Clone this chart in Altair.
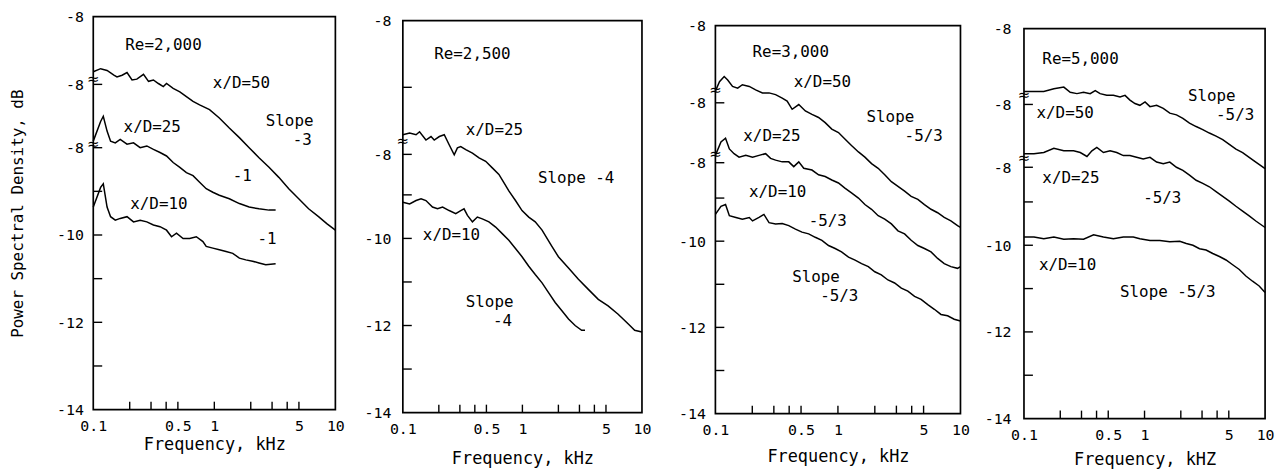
import altair as alt
import pandas as pd

FONT = "DejaVu Sans Mono"

# ---------------- data (frequency kHz, PSD dB) ----------------
# Panel 1: Re = 2,000
P1_XD50_F = [0.10, 0.115, 0.13, 0.148, 0.157, 0.173, 0.19, 0.209, 0.229, 0.26, 0.286, 0.314, 0.345, 0.379, 0.403, 0.457, 0.519, 0.588, 0.667, 0.756, 0.913, 1.10, 1.33, 1.61, 1.94, 2.34, 2.83, 3.41, 4.12, 4.98, 6.01, 7.26, 8.49, 10.0]
P1_XD50_V = [-6.26, -6.19, -6.23, -6.34, -6.38, -6.34, -6.28, -6.45, -6.43, -6.32, -6.48, -6.45, -6.53, -6.60, -6.53, -6.64, -6.72, -6.83, -6.94, -7.02, -7.13, -7.32, -7.55, -7.77, -8.00, -8.23, -8.45, -8.68, -8.94, -9.17, -9.40, -9.58, -9.74, -9.89]
P1_XD25_F = [0.10, 0.115, 0.121, 0.13, 0.139, 0.152, 0.167, 0.19, 0.215, 0.244, 0.277, 0.314, 0.356, 0.403, 0.457, 0.519, 0.588, 0.667, 0.756, 0.857, 0.972, 1.10, 1.33, 1.61, 1.94, 2.34, 2.83, 3.21]
P1_XD25_V = [-7.85, -7.40, -7.28, -7.62, -7.85, -7.89, -7.81, -7.92, -7.89, -8.00, -7.96, -8.04, -8.11, -8.19, -8.34, -8.45, -8.57, -8.64, -8.79, -8.94, -9.02, -9.09, -9.17, -9.28, -9.36, -9.40, -9.43, -9.43]
P1_XD10_F = [0.10, 0.115, 0.121, 0.13, 0.139, 0.152, 0.167, 0.19, 0.215, 0.244, 0.277, 0.314, 0.356, 0.403, 0.443, 0.487, 0.552, 0.626, 0.71, 0.805, 0.857, 0.972, 1.10, 1.25, 1.42, 1.61, 1.82, 2.07, 2.34, 2.66, 3.21]
P1_XD10_V = [-9.36, -8.91, -8.83, -9.36, -9.58, -9.66, -9.62, -9.58, -9.70, -9.66, -9.70, -9.77, -9.81, -9.89, -10.04, -9.96, -10.08, -10.08, -10.04, -10.15, -10.26, -10.30, -10.34, -10.38, -10.42, -10.53, -10.57, -10.60, -10.64, -10.68, -10.66]

# Panel 2: Re = 2,500
P2_XD25_F = [0.10, 0.114, 0.129, 0.138, 0.156, 0.172, 0.183, 0.202, 0.222, 0.244, 0.269, 0.286, 0.305, 0.336, 0.382, 0.434, 0.493, 0.56, 0.636, 0.70, 0.77, 0.875, 0.993, 1.13, 1.28, 1.46, 1.77, 2.00, 2.43, 2.94, 3.56, 4.31, 5.21, 6.32, 7.65, 8.69, 10.0]
P2_XD25_V = [-7.62, -7.58, -7.62, -7.55, -7.74, -7.66, -7.74, -7.66, -7.62, -7.85, -8.08, -7.92, -7.89, -7.96, -8.04, -8.15, -8.23, -8.38, -8.53, -8.72, -8.91, -9.13, -9.36, -9.51, -9.62, -9.81, -10.19, -10.42, -10.68, -10.94, -11.17, -11.40, -11.55, -11.74, -11.96, -12.11, -12.15]
P2_XD10_F = [0.10, 0.114, 0.129, 0.142, 0.156, 0.177, 0.195, 0.215, 0.244, 0.277, 0.305, 0.325, 0.347, 0.382, 0.42, 0.462, 0.525, 0.597, 0.678, 0.77, 0.875, 0.993, 1.13, 1.28, 1.46, 1.66, 1.88, 2.14, 2.43, 2.76, 3.13, 3.34]
P2_XD10_V = [-9.17, -9.21, -9.13, -9.09, -9.13, -9.28, -9.32, -9.28, -9.36, -9.43, -9.36, -9.32, -9.47, -9.62, -9.51, -9.55, -9.62, -9.74, -9.89, -10.04, -10.23, -10.42, -10.64, -10.83, -11.02, -11.25, -11.47, -11.66, -11.85, -12.00, -12.11, -12.11]

# Panel 3: Re = 3,000
P3_XD50_F = [0.10, 0.108, 0.118, 0.126, 0.138, 0.152, 0.166, 0.189, 0.213, 0.242, 0.274, 0.31, 0.351, 0.385, 0.423, 0.479, 0.542, 0.614, 0.695, 0.787, 0.891, 1.01, 1.14, 1.29, 1.47, 1.66, 1.88, 2.13, 2.41, 2.73, 3.09, 3.50, 3.96, 4.49, 5.08, 5.75, 6.51, 7.37, 8.35, 9.46, 10.0]
P3_XD50_V = [-6.52, -6.30, -6.18, -6.26, -6.41, -6.45, -6.37, -6.41, -6.49, -6.56, -6.56, -6.60, -6.68, -6.75, -6.94, -6.83, -6.98, -7.06, -7.13, -7.25, -7.40, -7.48, -7.63, -7.78, -7.93, -8.05, -8.20, -8.31, -8.46, -8.62, -8.73, -8.84, -8.96, -9.03, -9.15, -9.26, -9.34, -9.45, -9.53, -9.64, -9.68]
P3_XD25_F = [0.10, 0.111, 0.121, 0.13, 0.142, 0.156, 0.177, 0.201, 0.227, 0.257, 0.282, 0.31, 0.351, 0.397, 0.436, 0.479, 0.526, 0.614, 0.695, 0.787, 0.891, 1.01, 1.14, 1.29, 1.47, 1.66, 1.88, 2.13, 2.41, 2.73, 3.09, 3.50, 3.96, 4.49, 5.08, 5.75, 6.51, 7.37, 8.35, 9.46, 10.0]
P3_XD25_V = [-8.01, -7.70, -7.61, -7.86, -7.97, -8.05, -8.01, -8.05, -8.01, -7.97, -8.08, -8.12, -8.16, -8.16, -8.27, -8.16, -8.31, -8.35, -8.46, -8.50, -8.58, -8.65, -8.77, -8.88, -9.00, -9.15, -9.26, -9.41, -9.49, -9.60, -9.76, -9.83, -9.98, -10.10, -10.17, -10.25, -10.40, -10.52, -10.59, -10.63, -10.59]
P3_XD10_F = [0.10, 0.111, 0.121, 0.13, 0.147, 0.166, 0.189, 0.201, 0.227, 0.249, 0.274, 0.31, 0.351, 0.397, 0.45, 0.509, 0.577, 0.653, 0.74, 0.838, 0.949, 1.07, 1.22, 1.38, 1.56, 1.77, 2.00, 2.26, 2.56, 2.90, 3.29, 3.72, 4.22, 4.77, 5.41, 6.12, 6.93, 7.85, 8.89, 10.0]
P3_XD10_V = [-9.38, -9.19, -9.15, -9.41, -9.45, -9.49, -9.45, -9.53, -9.45, -9.38, -9.57, -9.60, -9.59, -9.64, -9.72, -9.79, -9.83, -9.91, -9.98, -10.10, -10.17, -10.25, -10.37, -10.44, -10.52, -10.59, -10.71, -10.78, -10.90, -10.97, -11.09, -11.16, -11.28, -11.35, -11.47, -11.58, -11.70, -11.73, -11.81, -11.85]

# Panel 4: Re = 5,000
P4_XD50_F = [0.10, 0.121, 0.146, 0.177, 0.214, 0.242, 0.275, 0.312, 0.354, 0.39, 0.428, 0.486, 0.552, 0.626, 0.689, 0.757, 0.833, 0.915, 1.01, 1.11, 1.26, 1.43, 1.62, 1.84, 2.08, 2.36, 2.68, 3.04, 3.45, 3.92, 4.45, 5.05, 5.73, 6.51, 7.38, 8.38, 10.0]
P4_XD50_V = [-6.45, -6.45, -6.45, -6.39, -6.35, -6.47, -6.50, -6.47, -6.50, -6.43, -6.50, -6.54, -6.54, -6.58, -6.54, -6.65, -6.73, -6.77, -6.69, -6.80, -6.77, -6.84, -6.95, -6.99, -7.07, -7.18, -7.26, -7.33, -7.41, -7.48, -7.56, -7.67, -7.78, -7.86, -7.97, -8.08, -8.23]
P4_XD25_F = [0.10, 0.121, 0.146, 0.177, 0.214, 0.258, 0.293, 0.333, 0.366, 0.402, 0.456, 0.518, 0.588, 0.667, 0.757, 0.859, 0.975, 1.11, 1.26, 1.43, 1.62, 1.84, 2.08, 2.36, 2.68, 3.04, 3.45, 3.92, 4.45, 5.05, 5.73, 6.51, 7.38, 8.38, 10.0]
P4_XD25_V = [-7.89, -7.89, -7.86, -7.76, -7.82, -7.82, -7.86, -7.95, -7.82, -7.74, -7.86, -7.82, -7.86, -7.93, -7.93, -7.97, -8.01, -7.97, -8.08, -8.12, -8.08, -8.20, -8.27, -8.38, -8.50, -8.57, -8.65, -8.76, -8.87, -8.98, -9.10, -9.21, -9.32, -9.44, -9.59]
P4_XD10_F = [0.10, 0.121, 0.146, 0.177, 0.214, 0.258, 0.312, 0.378, 0.456, 0.552, 0.667, 0.807, 0.915, 1.11, 1.34, 1.62, 1.96, 2.22, 2.52, 2.86, 3.24, 3.68, 4.18, 4.74, 5.38, 6.11, 6.93, 7.87, 8.93, 10.0]
P4_XD10_V = [-9.81, -9.81, -9.85, -9.81, -9.86, -9.85, -9.86, -9.76, -9.81, -9.85, -9.81, -9.81, -9.85, -9.89, -9.89, -9.92, -9.91, -9.96, -10.00, -10.08, -10.11, -10.19, -10.26, -10.34, -10.45, -10.56, -10.71, -10.83, -10.94, -11.09]

# Annotations (text, frequency, dB, anchor)
P1_TEXT = [("Re=2,000", 0.184, -5.65, "left"), ("x/D=50", 0.972, -6.53, "left"), ("Slope", 2.66, -7.40, "left"),
           ("-3", 6.40, -7.83, "right"), ("x/D=25", 0.178, -7.53, "left"), ("-1", 1.42, -8.64, "left"),
           ("x/D=10", 0.202, -9.30, "left"), ("-1", 2.27, -10.10, "left")]
P2_TEXT = [("Re=2,500", 0.183, -5.77, "left"), ("x/D=25", 0.336, -7.51, "left"), ("Slope -4", 1.35, -8.62, "left"),
           ("x/D=10", 0.147, -9.92, "left"), ("Slope", 0.336, -11.45, "left"), ("-4", 0.82, -11.89, "right")]
P3_TEXT = [("Re=3,000", 0.201, -5.61, "left"), ("x/D=50", 0.436, -6.30, "left"), ("Slope", 1.71, -7.12, "left"),
           ("-5/3", 3.50, -7.57, "left"), ("x/D=25", 0.169, -7.55, "left"), ("x/D=10", 0.188, -8.87, "left"),
           ("-5/3", 0.577, -9.53, "left"), ("Slope", 0.423, -10.84, "left"), ("-5/3", 0.717, -11.28, "left")]
P4_TEXT = [("Re=5,000", 0.142, -5.70, "left"), ("Slope", 2.29, -6.56, "left"), ("-5/3", 3.92, -6.99, "left"),
           ("x/D=50", 0.127, -6.95, "left"), ("x/D=25", 0.142, -8.46, "left"), ("-5/3", 0.975, -8.91, "left"),
           ("x/D=10", 0.133, -10.45, "left"), ("Slope -5/3", 0.626, -11.09, "left")]

# Axis label positions (axis units; values above -9 carry the offset "-8" label)
P1_YLAB = [-14, -12, -10, -8, -6.55, -5]
P2_YLAB = [-14, -12, -10, -8.07, -5]
P3_YLAB = [-14, -12, -10, -8.18, -6.79, -5]
P4_YLAB = [-14, -12, -10, -8.2, -6.75, -5]
P1_YTICK = [-13, -12, -11, -10, -9, -8, -6.55]
P2_YTICK = [-13, -12, -11, -10, -9, -8.07, -6.53]
P3_YTICK = [-13, -12, -11, -10, -9, -8.18, -6.79]
P4_YTICK = [-13, -12, -11, -10, -9, -8.2, -6.75]
P1_BREAK = [-6.43, -7.92]
P2_BREAK = [-7.77]
P3_BREAK = [-6.50, -7.97]
P4_BREAK = [-6.54, -7.98]

X_LABELS = [0.1, 0.5, 1, 5, 10]
X_TICKS = [0.2, 0.3, 0.4, 0.5, 1, 2, 3, 4, 5]


def curves_df(curves):
    rows = []
    for name, fs, vs in curves:
        assert len(fs) == len(vs), name
        for f, v in zip(fs, vs):
            rows.append({"series": name, "f": f, "v": v})
    return pd.DataFrame(rows)


def make_panel(curves, texts, ylab, yticks, breaks, width, height, top_off, left_ext,
               y_title, x_title, x_title_pad, y_label_pad):
    xs = alt.Scale(type="log", domain=[0.1, 10], nice=False)
    ys = alt.Scale(domain=[-14, -5], range=[height, top_off], nice=False, zero=False)

    x_axis = alt.Axis(values=X_LABELS,
                      labelExpr="datum.value < 1 ? format(datum.value, '.1f') : format(datum.value, 'd')",
                      title=x_title, grid=False, ticks=False, tickSize=0, domain=False,
                      labelPadding=9, labelFont=FONT, labelFontSize=15, labelColor="black",
                      labelFlush=False, labelOverlap=False,
                      titleFont=FONT, titleFontSize=17, titleFontWeight="normal",
                      titleColor="black", titlePadding=x_title_pad)
    ykw = dict(values=ylab,
               labelExpr="datum.value > -9 ? '-8' : '-' + format(-datum.value, 'd')",
               grid=False, ticks=False, tickSize=0, domain=False,
               labelPadding=y_label_pad, labelFont=FONT, labelFontSize=15, labelColor="black",
               labelFlush=False, labelOverlap=False)
    if y_title:
        ykw.update(title=y_title, titleFont=FONT, titleFontSize=16, titleFontWeight="normal",
                   titleColor="black", titlePadding=31)
    else:
        ykw.update(title=None)
    y_axis = alt.Axis(**ykw)

    def X(field="f"):
        return alt.X(field + ":Q", scale=xs, axis=x_axis)

    def Y(field="v"):
        return alt.Y(field + ":Q", scale=ys, axis=y_axis)

    one = pd.DataFrame({"d": [0]})
    frame = alt.Chart(one).mark_rect(fillOpacity=0, stroke="black", strokeWidth=1.7).encode(
        x=alt.value(0), x2=alt.value(width), y=alt.value(top_off), y2=alt.value(height))
    lines = alt.Chart(curves_df(curves)).mark_line(color="black", strokeWidth=1.5).encode(
        x=X(), y=Y(), detail="series:N",
    )
    ytick = alt.Chart(pd.DataFrame({"v": yticks})).mark_rule(color="black", strokeWidth=1.4).encode(
        y=Y(), x=alt.value(0), x2=alt.value(9))
    xtick = alt.Chart(pd.DataFrame({"f": X_TICKS})).mark_rule(color="black", strokeWidth=1.4).encode(
        x=X(), y=alt.value(height), y2=alt.value(height - 8))

    tdf = pd.DataFrame(texts, columns=["label", "f", "v", "anchor"])
    layers = [frame, lines, ytick, xtick]
    for anchor in ["left", "right"]:
        sub = tdf[tdf["anchor"] == anchor]
        if len(sub):
            layers.append(alt.Chart(sub).mark_text(font=FONT, fontSize=16, align=anchor,
                                                   baseline="middle", color="black").encode(
                x=X(), y=Y(), text="label:N"))
    brk = alt.Chart(pd.DataFrame({"f": [0.1] * len(breaks), "v": breaks})).mark_text(
        text="≈", font="DejaVu Sans", fontSize=15, align="center", baseline="middle", color="black").encode(
        x=X(), y=Y())
    layers.append(brk)
    # invisible (white) guide fixing the panel's outer bounds for layout
    spacer = alt.Chart(one).mark_rule(color="white", strokeWidth=1).encode(
        x=alt.value(-left_ext), x2=alt.value(width + 10),
        y=alt.value(-9), y2=alt.value(-9))
    layers.append(spacer)
    return alt.layer(*layers).properties(width=width, height=height)


# panel views share a common top; each frame starts lower by top_off pixels
p1 = make_panel([("50", P1_XD50_F, P1_XD50_V), ("25", P1_XD25_F, P1_XD25_V), ("10", P1_XD10_F, P1_XD10_V)],
                P1_TEXT, P1_YLAB, P1_YTICK, P1_BREAK, 244, 396, 0, 86,
                "Power Spectral Density, dB", "Frequency, kHz", 3, 10)
p2 = make_panel([("25", P2_XD25_F, P2_XD25_V), ("10", P2_XD10_F, P2_XD10_V)],
                P2_TEXT, P2_YLAB, P2_YTICK, P2_BREAK, 241, 399, 4, 46,
                None, "Frequency, kHz", 14, 12)
p3 = make_panel([("50", P3_XD50_F, P3_XD50_V), ("25", P3_XD25_F, P3_XD25_V), ("10", P3_XD10_F, P3_XD10_V)],
                P3_TEXT, P3_YLAB, P3_YTICK, P3_BREAK, 247, 400, 9, 52,
                None, "Frequency, kHz", 11, 10)
p4 = make_panel([("50", P4_XD50_F, P4_XD50_V), ("25", P4_XD25_F, P4_XD25_V), ("10", P4_XD10_F, P4_XD10_V)],
                P4_TEXT, P4_YLAB, P4_YTICK, P4_BREAK, 243, 405, 12, 42,
                None, "Frequency, kHZ", 9, 13)

chart = alt.concat(p1, p2, p3, p4, columns=4, spacing=10).properties(
    align="none", bounds="full",
    padding={"left": 7, "top": 5, "right": 0, "bottom": 0},
    background="white",
).configure_view(stroke="transparent").configure_axis(
    labelFont=FONT, labelFontSize=15, labelColor="black",
    titleFont=FONT, titleColor="black", titleFontWeight="normal",
)

chart.save("out.html", embed_options={"renderer": "svg", "actions": False})
